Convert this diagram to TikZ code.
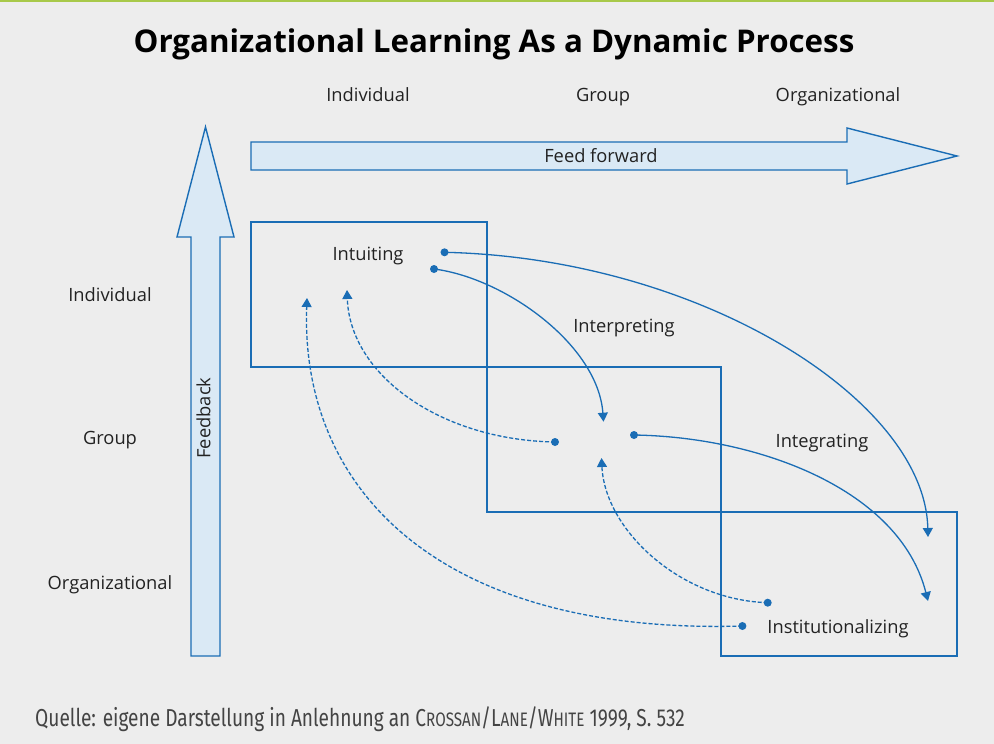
\documentclass[tikz,border=0pt]{standalone}
\usepackage{fontspec}
\setmainfont{Open Sans}
\newfontfamily\capfont[FakeStretch=0.78]{Fira Sans}
\usetikzlibrary{arrows.meta}
\definecolor{bg}{HTML}{EDEDED}
\definecolor{topline}{HTML}{A8C94A}
\definecolor{lineblue}{HTML}{1A6DB5}
\definecolor{fillblue}{HTML}{DAE9F5}
\definecolor{txt}{HTML}{222222}
\definecolor{captxt}{HTML}{444444}
\tikzset{
  lbl/.style={font=\fontsize{18.3}{21}\selectfont, text=txt, inner sep=0pt, text height=17.5pt, text depth=4pt},
  bigarrow/.style={draw=lineblue, fill=fillblue, line width=1.4pt, line join=miter},
  region/.style={draw=lineblue, line width=1.3pt},
  flow/.style={draw=lineblue, line width=1.3pt, -{Triangle[width=10pt,length=9pt]}},
  back/.style={flow, dash pattern=on 4pt off 2pt},
  dotpt/.style={circle, fill=lineblue, inner sep=0pt, minimum size=8pt}
}
\begin{document}
\begin{tikzpicture}[x=1pt,y=-1pt]
\fill[bg] (0,0) rectangle (994,744);
\useasboundingbox (0,0) rectangle (994,744);
\fill[topline] (0,0) rectangle (994,2);

% title
\node[font=\fontsize{31.3}{36}\selectfont\bfseries, text=black, inner sep=0pt] (title) at (494,44) {Organizational Learning As a Dynamic Process};

% column headers
\node[lbl] (cInd) at (368,95) {Individual};
\node[lbl] (cGrp) at (603,95) {Group};
\node[lbl] (cOrg) at (838,95) {Organizational};
% row headers
\node[lbl] (rInd) at (110,295) {Individual};
\node[lbl] (rGrp) at (110,438) {Group};
\node[lbl] (rOrg) at (110,583) {Organizational};

% feedback arrow
\draw[bigarrow] (191,656) -- (191,237) -- (177,237) -- (205.5,127) -- (234,237) -- (220,237) -- (220,656) -- cycle;
\node[lbl, rotate=90] (fb) at (203.5,418) {Feedback};
% feed forward arrow
\draw[bigarrow] (251,142) -- (847,142) -- (847,128) -- (957,156) -- (847,184) -- (847,170) -- (251,170) -- cycle;
\node[lbl] (ff) at (601,156) {Feed forward};

% regions
\draw[region] (251,222) rectangle (487,367);
\draw[region] (487,367) rectangle (721,512);
\draw[region] (721,512) rectangle (957,656);

% process labels
\node[lbl] (intu) at (368,254) {Intuiting};
\node[lbl] (interp) at (624,326) {Interpreting};
\node[lbl] (integ) at (822,441) {Integrating};
\node[lbl] (inst) at (838,627) {Institutionalizing};

% dots
\node[dotpt] (d1) at (444.5,252.3) {};
\node[dotpt] (d2) at (434,269) {};
\node[dotpt] (d3) at (634,435) {};
\node[dotpt] (d4) at (555,442) {};
\node[dotpt] (d5) at (767.7,602.7) {};
\node[dotpt] (d6) at (742.4,626) {};
% arrow ends
\coordinate (e1) at (928,537);
\coordinate (e2) at (603.5,421.7);
\coordinate (e3) at (928,601);
\coordinate (e4) at (347,290);
\coordinate (e5) at (601.5,458);
\coordinate (e6) at (307,298);

\draw[flow] (d1.center) .. controls (700,258) and (925,400) .. (e1);
\draw[flow] (d2.center) .. controls (505,278) and (598,345) .. (e2);
\draw[flow] (d3.center) .. controls (760,437) and (900,490) .. (e3);
\draw[back] (d4.center) .. controls (440,440) and (350,375) .. (e4);
\draw[back] (d5.center) .. controls (680,600) and (605,530) .. (e5);
\draw[back] (d6.center) .. controls (440,635) and (300,490) .. (e6);

% caption
\node[anchor=west, inner sep=0pt, text=captxt, font=\capfont\fontsize{24.5}{28}\selectfont] (cap) at (35,719) {Quelle: eigene Darstellung in Anlehnung an C{\fontsize{19.5}{22}\selectfont ROSSAN}/L{\fontsize{19.5}{22}\selectfont ANE}/W{\fontsize{19.5}{22}\selectfont HITE} 1999, S. 532};
\end{tikzpicture}
\end{document}
